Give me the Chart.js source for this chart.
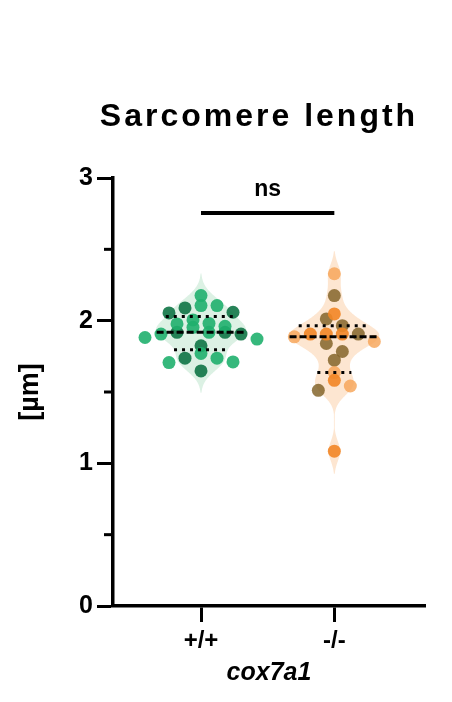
<!DOCTYPE html>
<html>
<head>
<meta charset="utf-8">
<script src="https://cdn.jsdelivr.net/npm/chart.js@4/dist/chart.umd.min.js"></script>
<style>
  html, body { margin: 0; padding: 0; background: #fff; }
</style>
</head>
<body>
<canvas id="chart" width="452" height="702"></canvas>
<script>
const categories = ['+/+', '-/-'];
const yTicks = [0, 1, 2, 3];
const yMinorTicks = [0.5, 1.5, 2.5];

// +/+ group, one array per fish
const wtLight = [2.176, 2.106, 2.106, 2.005, 1.981, 1.977, 1.960, 1.953, 1.918, 1.906, 1.882, 1.871, 1.770, 1.737, 1.711, 1.706];
const wtDark = [2.089, 2.059, 2.054, 1.918, 1.918, 1.906, 1.824, 1.737, 1.648];

// -/- group
const mutOrange = [2.047, 1.906, 1.906, 1.906, 1.582, 1.085];
const mutLight = [2.329, 1.887, 1.854, 1.636, 1.542];
const mutBrown = [2.176, 2.012, 1.965, 1.906, 1.840, 1.784, 1.723, 1.512];

const nsLevel = 2.754;
const nsText = 'ns';

const FONT = "'Liberation Sans', Arial, sans-serif";

const groups = [
    { cat: 1, sets: [0, 1], values: wtLight.concat(wtDark), fill: 'rgba(205, 235, 216, 0.7)' },
    { cat: 2, sets: [2, 3, 4], values: mutOrange.concat(mutLight, mutBrown), fill: 'rgba(252, 222, 194, 0.75)' },
];

function toPoints(vals, cat) {
    return vals.map(function (v) { return { x: cat, y: v }; });
}

function quantile(sorted, p) {
    const n = sorted.length;
    const pos = (n + 1) * p;
    const lo = Math.max(1, Math.min(n, Math.floor(pos)));
    const hi = Math.max(1, Math.min(n, Math.ceil(pos)));
    return sorted[lo - 1] + (sorted[hi - 1] - sorted[lo - 1]) * (pos - Math.floor(pos));
}

function kde(vals, y, h) {
    let s = 0;
    vals.forEach(function (v) {
        const z = (y - v) / h;
        s += Math.exp(-0.5 * z * z);
    });
    return s;
}

const BW = 0.07;
const HALF = 45; // px, widest part of violin

groups.forEach(function (g) {
    g.sorted = g.values.slice().sort(function (a, b) { return a - b; });
    g.lo = g.sorted[0] - 0.35;
    g.hi = g.sorted[g.sorted.length - 1] + 0.35;
    let m = 0;
    for (let y = g.lo; y <= g.hi; y += 0.002) m = Math.max(m, kde(g.values, y, BW));
    g.maxD = m;
    g.width = function (y) { return HALF * kde(g.values, y, BW) / g.maxD; };
});

const violinPlugin = {
    id: 'violins',
    beforeDatasetsDraw(chart) {
        const ctx = chart.ctx, xs = chart.scales.x, ys = chart.scales.y;
        groups.forEach(function (g) {
            const cx = xs.getPixelForValue(g.cat);
            const pts = [];
            for (let y = g.lo; y <= g.hi; y += 0.004) {
                const w = g.width(y);
                if (w > 0.4) pts.push([ys.getPixelForValue(y), w]);
            }
            ctx.save();
            ctx.fillStyle = g.fill;
            ctx.beginPath();
            pts.forEach(function (p, i) { i ? ctx.lineTo(cx + p[1], p[0]) : ctx.moveTo(cx + p[1], p[0]); });
            for (let i = pts.length - 1; i >= 0; i--) ctx.lineTo(cx - pts[i][1], pts[i][0]);
            ctx.closePath();
            ctx.fill();
            ctx.restore();
        });
    },
    afterDatasetsDraw(chart) {
        const ctx = chart.ctx, xs = chart.scales.x, ys = chart.scales.y;
        groups.forEach(function (g) {
            const cx = xs.getPixelForValue(g.cat);
            [[0.5, [7, 3], 3], [0.25, [3, 5], 3], [0.75, [3, 5], 3]].forEach(function (q) {
                const v = quantile(g.sorted, q[0]);
                const w = g.width(v);
                const py = ys.getPixelForValue(v);
                ctx.save();
                ctx.strokeStyle = '#000';
                ctx.lineWidth = q[2];
                ctx.setLineDash(q[1]);
                ctx.beginPath();
                ctx.moveTo(cx - w, py);
                ctx.lineTo(cx + w, py);
                ctx.stroke();
                ctx.restore();
            });
        });
    },
    afterDraw(chart) {
        const ctx = chart.ctx, xs = chart.scales.x, ys = chart.scales.y;
        const left = chart.chartArea.left;
        ctx.save();
        ctx.strokeStyle = '#000';
        ctx.lineWidth = 3;
        yMinorTicks.forEach(function (v) {
            const py = ys.getPixelForValue(v);
            ctx.beginPath();
            ctx.moveTo(left - 9, py);
            ctx.lineTo(left, py);
            ctx.stroke();
        });
        ctx.fillStyle = '#000';
        ctx.textAlign = 'center';
        ctx.textBaseline = 'middle';
        ctx.font = 'bold 32px ' + FONT;
        ctx.letterSpacing = '3px';
        ctx.fillText('Sarcomere length', 259, 117);
        ctx.letterSpacing = '0px';
        ctx.font = 'bold 23px ' + FONT;
        ctx.fillText(nsText, (xs.getPixelForValue(1) + xs.getPixelForValue(2)) / 2, ys.getPixelForValue(nsLevel) - 23);
        ctx.restore();
    }
};

const dot = function (label, vals, cat, color) {
    return {
        type: 'scatter',
        label: label,
        data: toPoints(vals, cat),
        backgroundColor: color,
        borderWidth: 0,
        pointRadius: 6.5,
        pointHoverRadius: 6.5,
    };
};

const data = {
    datasets: [
        dot('+/+ fish 1', wtLight, 1, 'rgba(32, 176, 110, 0.9)'),
        dot('+/+ fish 2', wtDark, 1, 'rgba(16, 118, 70, 0.9)'),
        dot('-/- fish 1', mutOrange, 2, 'rgba(242, 134, 38, 0.9)'),
        dot('-/- fish 2', mutLight, 2, 'rgba(246, 162, 84, 0.8)'),
        dot('-/- fish 3', mutBrown, 2, 'rgba(128, 96, 36, 0.82)'),
        {
            type: 'line',
            label: 'ns',
            data: [{ x: 1, y: nsLevel }, { x: 2, y: nsLevel }],
            borderColor: '#000',
            borderWidth: 4,
            pointRadius: 0,
        },
    ],
};

const config = {
    type: 'scatter',
    data: data,
    options: {
        responsive: false,
        animation: false,
        layout: { padding: { top: 178, right: 27, bottom: 14, left: 0 } },
        plugins: { legend: { display: false }, tooltip: { enabled: false } },
        scales: {
            x: {
                type: 'linear',
                min: 0.34,
                max: 2.68,
                afterBuildTicks: function (s) { s.ticks = [{ value: 1 }, { value: 2 }]; },
                afterFit: function (s) { s.height = 82; },
                ticks: {
                    callback: function (v) { return categories[v - 1]; },
                    color: '#000',
                    font: { family: FONT, weight: 'bold', size: 24 },
                    padding: 5,
                    maxRotation: 0,
                    autoSkip: false,
                },
                grid: { drawOnChartArea: false, tickLength: 16, tickWidth: 3, color: '#000' },
                border: { width: 3.5, color: '#000' },
                title: {
                    display: true,
                    text: 'cox7a1',
                    color: '#000',
                    font: { family: FONT, weight: 'bold', style: 'italic', size: 25 },
                    padding: 0,
                },
            },
            y: {
                min: 0,
                max: 3,
                afterBuildTicks: function (s) { s.ticks = yTicks.map(function (v) { return { value: v }; }); },
                afterFit: function (s) { s.width = 113; },
                ticks: {
                    color: '#000',
                    font: { family: FONT, weight: 'bold', size: 25 },
                    padding: 4,
                },
                grid: { drawOnChartArea: false, tickLength: 16, tickWidth: 3, color: '#000' },
                border: { width: 3.5, color: '#000' },
                title: {
                    display: true,
                    text: '[µm]',
                    color: '#000',
                    font: { family: FONT, weight: 'bold', size: 27 },
                    padding: { top: 14, bottom: 0 },
                },
            },
        },
    },
    plugins: [violinPlugin],
};

const chart = new Chart(document.getElementById('chart'), config);

// GraphPad-style scatter: put dots into rows one dot high, spread each row evenly
function swarm(chart) {
    const xs = chart.scales.x, ys = chart.scales.y;
    const unit = xs.getPixelForValue(2) - xs.getPixelForValue(1);
    const rowH = 12.5, gap = 16;
    groups.forEach(function (g) {
        const items = [];
        g.sets.forEach(function (i) { chart.data.datasets[i].data.forEach(function (p) { items.push(p); }); });
        items.sort(function (a, b) { return b.y - a.y; });
        const top = ys.getPixelForValue(items[0].y);
        const rows = {};
        items.forEach(function (p) {
            const r = Math.round((ys.getPixelForValue(p.y) - top) / rowH);
            (rows[r] = rows[r] || []).push(p);
        });
        Object.keys(rows).forEach(function (r) {
            const row = rows[r];
            // interleave so that colours mix along the row
            const order = [];
            row.forEach(function (p, i) { i % 2 ? order.push(p) : order.unshift(p); });
            order.forEach(function (p, i) {
                p.x = g.cat + (i - (order.length - 1) / 2) * gap / unit;
            });
        });
    });
    chart.update('none');
}
swarm(chart);
</script>
</body>
</html>
